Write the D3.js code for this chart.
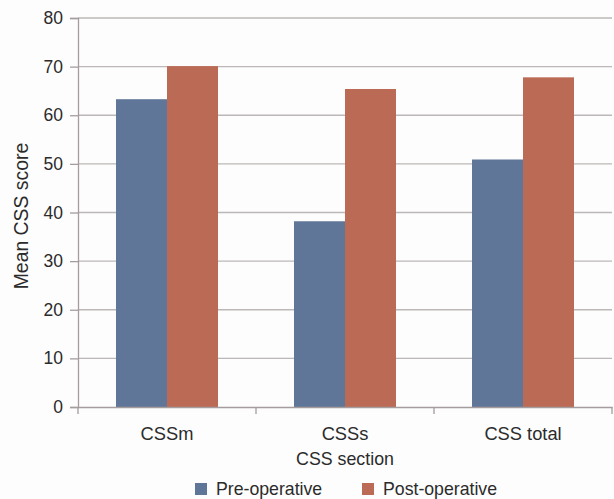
<!DOCTYPE html>
<html>
<head>
<meta charset="utf-8">
<script src="https://cdn.jsdelivr.net/npm/d3@7/dist/d3.min.js"></script>
<style>
  html, body { margin: 0; padding: 0; background: #fdfdfd; }
  svg { display: block; font-family: "Liberation Sans", Arial, sans-serif; }
</style>
</head>
<body>
<svg id="chart" width="614" height="499"></svg>
<script>
// Mean CSS score before and after surgery, by CSS section
const sections = ["CSSm", "CSSs", "CSS total"];
const seriesNames = ["Pre-operative", "Post-operative"];
const preOperative = [63.3, 38.2, 50.9];
const postOperative = [70.1, 65.4, 67.8];
const yTicks = [0, 10, 20, 30, 40, 50, 60, 70, 80];

const colors = { "Pre-operative": "#5f7698", "Post-operative": "#bb6a55" };
const values = { "Pre-operative": preOperative, "Post-operative": postOperative };
const textColor = "#2b2b2b";
const axisColor = "#a59d9d";

const svg = d3.select("#chart");
const margin = { top: 18, right: 2, bottom: 92, left: 78 };
const width = 614 - margin.left - margin.right;
const height = 499 - margin.top - margin.bottom;

const g = svg.append("g").attr("transform", `translate(${margin.left},${margin.top})`);

const x0 = d3.scaleBand().domain(sections).range([0, width]).paddingInner(0).paddingOuter(0);
const x1 = d3.scaleBand().domain(seriesNames).range([0, 102]);
const y = d3.scaleLinear().domain([0, 80]).range([height, 0]);

// horizontal gridlines
g.append("g")
  .selectAll("line")
  .data(yTicks.filter(t => t > 0))
  .join("line")
  .attr("x1", 0).attr("x2", width)
  .attr("y1", d => y(d)).attr("y2", d => y(d))
  .attr("stroke", "#bdb7b7").attr("stroke-width", 1.3);

// bars
const groups = g.append("g")
  .selectAll("g")
  .data(sections)
  .join("g")
  .attr("transform", d => `translate(${x0(d) + (x0.bandwidth() - 102) / 2},0)`);

groups.selectAll("rect")
  .data((d, i) => seriesNames.map(s => ({ s, v: values[s][i] })))
  .join("rect")
  .attr("x", d => x1(d.s))
  .attr("width", x1.bandwidth())
  .attr("y", d => y(d.v))
  .attr("height", d => y(0) - y(d.v))
  .attr("fill", d => colors[d.s]);

// y axis
const yAxis = g.append("g")
  .call(d3.axisLeft(y).tickValues(yTicks).tickSize(8).tickPadding(7).tickFormat(d3.format("d")));
yAxis.select(".domain").attr("stroke", axisColor).attr("stroke-width", 1.3);
yAxis.selectAll(".tick line").attr("stroke", axisColor).attr("stroke-width", 1.3);
yAxis.selectAll(".tick text")
  .attr("fill", textColor).style("font-size", "17.5px").attr("font-family", null);

// x axis
const xAxis = g.append("g")
  .attr("transform", `translate(0,${height})`)
  .call(d3.axisBottom(x0).tickSize(0).tickPadding(20));
xAxis.select(".domain").attr("stroke", axisColor).attr("stroke-width", 1.3);
xAxis.selectAll(".tick text")
  .attr("fill", textColor).style("font-size", "18.3px").attr("font-family", null);

// category boundary ticks
xAxis.append("g")
  .selectAll("line")
  .data(d3.range(sections.length + 1))
  .join("line")
  .attr("x1", i => i * x0.step()).attr("x2", i => i * x0.step())
  .attr("y1", 0).attr("y2", 7)
  .attr("stroke", axisColor).attr("stroke-width", 1.3);

// axis titles
svg.append("text")
  .attr("x", margin.left + width / 2).attr("y", 465)
  .attr("text-anchor", "middle").attr("fill", textColor)
  .style("font-size", "17.8px").text("CSS section");

svg.append("text")
  .attr("transform", `translate(28,216) rotate(-90)`)
  .attr("text-anchor", "middle").attr("fill", textColor)
  .style("font-size", "19.4px").text("Mean CSS score");

// legend
const legendX = [195, 362];
const legend = svg.append("g")
  .selectAll("g")
  .data(seriesNames)
  .join("g")
  .attr("transform", (d, i) => `translate(${legendX[i]},483)`);
legend.append("rect")
  .attr("width", 12).attr("height", 12)
  .attr("fill", d => colors[d]);
legend.append("text")
  .attr("x", 21).attr("y", 12)
  .attr("fill", textColor).style("font-size", "17.7px")
  .text(d => d);
</script>
</body>
</html>
